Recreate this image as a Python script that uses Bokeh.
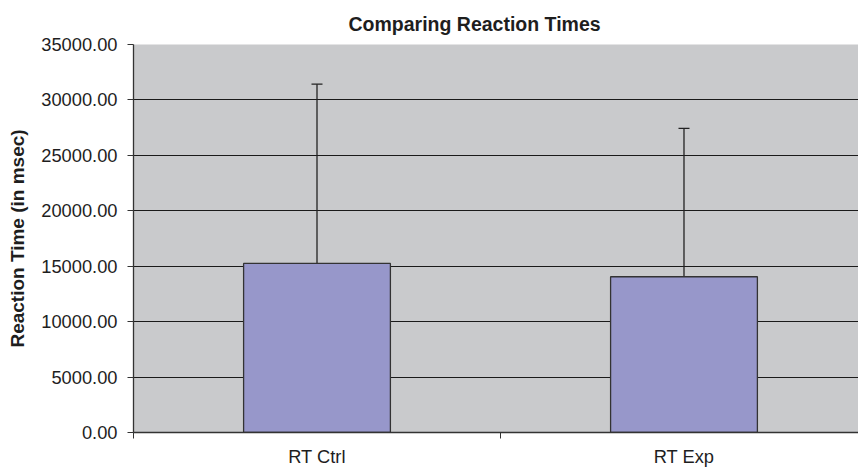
from bokeh.plotting import figure
from bokeh.models import (ColumnDataSource, Range1d, FixedTicker, Whisker, TeeHead,
                          Grid, PrintfTickFormatter)
from bokeh.embed import file_html
from bokeh.resources import INLINE

# ---- data ----
categories = ["RT Ctrl", "RT Exp"]
mean_rt = [15250, 14050]
sd_rt = [16170, 13380]
y_ticks = [0, 5000, 10000, 15000, 20000, 25000, 30000, 35000]
title_text = "Comparing Reaction Times"
y_label = "Reaction Time (in msec)"

FONT = "Liberation Sans"
TXT = "#1e1e1e"

xpos = [i + 0.5 for i in range(len(categories))]
upper = [m + s for m, s in zip(mean_rt, sd_rt)]
src = ColumnDataSource(dict(x=xpos, top=mean_rt, upper=upper, lower=mean_rt))

p = figure(width=858, height=469, output_backend="svg", toolbar_location=None,
           x_range=Range1d(0, 1.9755), y_range=Range1d(0, 35000),
           min_border_left=133, min_border_right=0, min_border_top=44,
           min_border_bottom=37)

p.background_fill_color = "#c9cacc"
p.border_fill_color = "white"
p.outline_line_color = None

p.vbar(x="x", top="top", bottom=0, width=0.4, source=src,
       fill_color="#9797ca", line_color="#333333", line_width=1.3)

w = Whisker(base="x", upper="upper", lower="lower", source=src, dimension="height",
            line_color="#222222", line_width=1.3,
            upper_head=TeeHead(size=11, line_color="#222222", line_width=1.3),
            lower_head=None)
p.add_layout(w)

# title
p.title.text = title_text
p.title.text_font = FONT
p.title.text_font_size = "19.5px"
p.title.text_font_style = "bold"
p.title.text_color = TXT
p.title.align = "left"
p.title.offset = 215
p.title.standoff = 20

# y axis
ya = p.yaxis[0]
ya.ticker = FixedTicker(ticks=y_ticks)
ya.formatter = PrintfTickFormatter(format="%.2f")
ya.major_tick_out = 6
ya.major_tick_in = 0
ya.minor_tick_out = 0
ya.minor_tick_in = 0
ya.major_label_standoff = 10
ya.major_label_text_font = FONT
ya.major_label_text_font_size = "18.3px"
ya.major_label_text_color = TXT
ya.axis_line_color = "#333333"
ya.axis_line_width = 1.3
ya.major_tick_line_color = "#333333"
ya.axis_label = y_label
ya.axis_label_text_font = FONT
ya.axis_label_text_font_size = "19px"
ya.axis_label_text_font_style = "bold"
ya.axis_label_text_color = TXT
ya.axis_label_standoff = 10

# x axis
xa = p.xaxis[0]
xa.ticker = FixedTicker(ticks=xpos, minor_ticks=[float(i) for i in range(len(categories) + 1)])
xa.major_label_overrides = {x: c for x, c in zip(xpos, categories)}
xa.major_tick_out = 0
xa.major_tick_in = 0
xa.minor_tick_out = 6
xa.minor_tick_in = 0
xa.minor_tick_line_color = "#333333"
xa.major_label_standoff = 7
xa.major_label_text_font = FONT
xa.major_label_text_font_size = "18.3px"
xa.major_label_text_color = TXT
xa.axis_line_color = "#333333"
xa.axis_line_width = 1.3

# grids
p.xgrid.visible = False
p.ygrid.ticker = FixedTicker(ticks=y_ticks[1:-1])
p.ygrid.grid_line_color = "#1a1a1a"
p.ygrid.grid_line_width = 1.2
top_grid = Grid(dimension=1, ticker=FixedTicker(ticks=[y_ticks[-1]]),
                grid_line_color="#999999", grid_line_width=2)
p.add_layout(top_grid)

open("out.html", "w").write(file_html(p, INLINE))
